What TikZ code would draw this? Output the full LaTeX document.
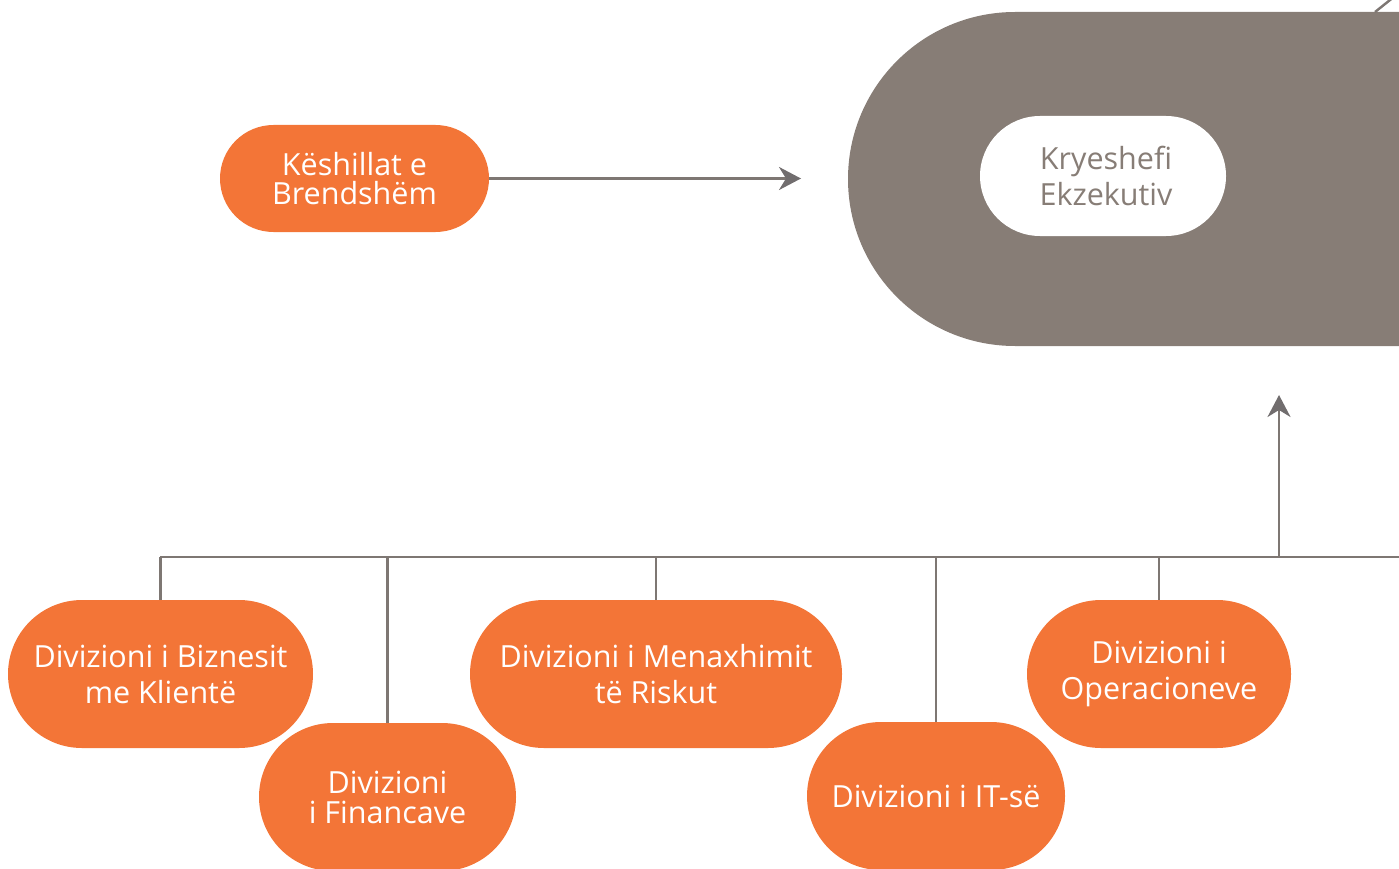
\documentclass[tikz,border=0pt]{standalone}
\usepackage{fontspec}
\setmainfont{Open Sans}
\usetikzlibrary{arrows.meta}
\definecolor{orng}{HTML}{F37537}
\definecolor{grbox}{HTML}{877D76}
\definecolor{gline}{HTML}{7E7773}
\definecolor{ghead}{HTML}{716D6E}
\tikzset{
  pill/.style={fill=orng, text=white, align=center, inner sep=0pt,
    font=\fontsize{30.5}{36}\selectfont},
  conn/.style={draw=gline, line width=2.4pt},
  arr/.style={conn, -{Stealth[length=22pt,width=23pt,inset=7pt,fill=ghead,color=ghead]}},
}
\begin{document}
\begin{tikzpicture}[x=1pt,y=-1pt]
\useasboundingbox (0,0) rectangle (1399,869);
\clip (0,0) rectangle (1399,869);
% big grey container
\fill[grbox] (1420,12) -- (1015,12) arc[start angle=270,end angle=90,radius=167] -- (1420,346) -- cycle;
\coordinate (diagA) at (1375,12);
\coordinate (diagB) at (1395,-4);
\draw[conn] (diagA) -- (diagB);
% nodes
\node[pill, minimum width=269pt, minimum height=107pt, rounded corners=53.5pt,
  font=\fontsize{30.5}{29}\selectfont] (ksh) at (354.5,178.5) {Këshillat e\\Brendshëm};
\node[fill=white, text=grbox, align=center, inner sep=0pt, minimum width=246pt,
  minimum height=120pt, rounded corners=60pt, font=\fontsize{30.5}{36}\selectfont]
  (ceo) at (1103,176) {\hspace*{6pt}Kryeshefi\\\hspace*{6pt}Ekzekutiv};
\coordinate (ceoL) at (801,178.5);
\coordinate (ceoB) at (1279,395);
\draw[arr] (ksh.east) -- (ceoL);
% bus
\coordinate (busL) at (160,557);
\coordinate (busR) at (1410,557);
\coordinate (busU) at (1279,557);
\draw[conn] (busL) -- (busR);
\draw[arr] (busU) -- (ceoB);
\node[pill, minimum width=305pt, minimum height=148pt, rounded corners=74pt] (biz) at (160.5,674) {Divizioni i Biznesit\\me Klientë};
\node[pill, minimum width=257pt, minimum height=148pt, rounded corners=74pt,
  font=\fontsize{30.5}{30}\selectfont] (fin) at (387.5,797) {Divizioni\\i Financave};
\node[pill, minimum width=372pt, minimum height=148pt, rounded corners=74pt] (risk) at (656,674) {Divizioni i Menaxhimit\\të Riskut};
\node[pill, minimum width=258pt, minimum height=148pt, rounded corners=74pt] (it) at (936,796) {Divizioni i IT-së};
\node[pill, minimum width=264pt, minimum height=148pt, rounded corners=74pt] (ops) at (1159,674) {Divizioni i\\Operacioneve};
\draw[conn] (biz.north) -- (biz.north |- busL);
\draw[conn] (fin.north) -- (fin.north |- busL);
\draw[conn] (risk.north) -- (risk.north |- busL);
\draw[conn] (it.north) -- (it.north |- busL);
\draw[conn] (ops.north) -- (ops.north |- busL);
\end{tikzpicture}
\end{document}
